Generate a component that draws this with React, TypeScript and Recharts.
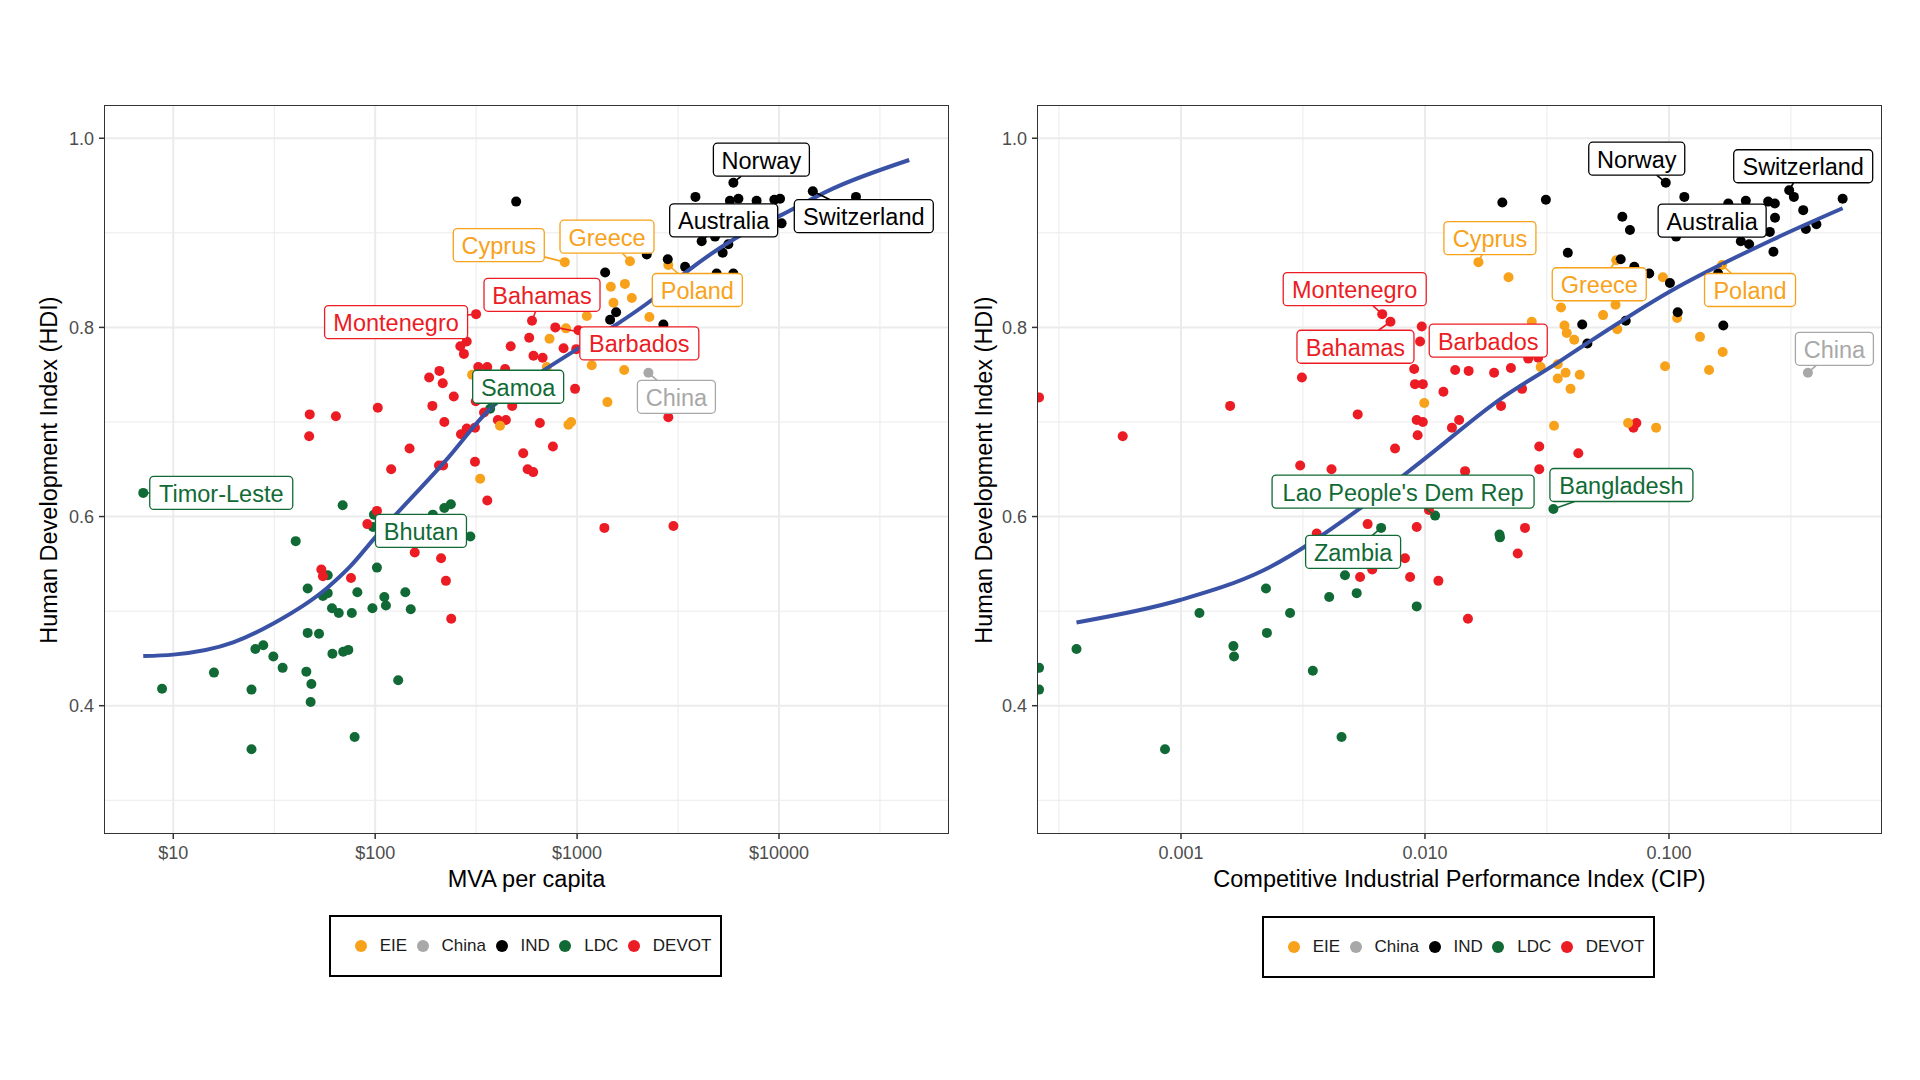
import React from "react";
import { ScatterChart, Scatter, XAxis, YAxis, CartesianGrid } from "recharts";

// ── Data ───────────────────────────────────────────────────────────────────
// [x, HDI, label?]
type Pt = [number, number, string?];

// Left panel: MVA per capita ($)
const MVA_EIE: Pt[] = [
  [869, 0.869, "Cyprus"], [1828, 0.870, "Greece"], [1469, 0.843], [1725, 0.846], [1866, 0.831],
  [1514, 0.826], [2830, 0.866, "Poland"], [2280, 0.811], [1117, 0.812], [730, 0.788], [881, 0.799],
  [1182, 0.760], [1711, 0.755], [1413, 0.721], [906, 0.697], [934, 0.700], [708, 0.758],
  [331, 0.640], [415, 0.696], [302, 0.750],
];
const MVA_CHINA: Pt[] = [[2255, 0.752, "China"]];
const MVA_IND: Pt[] = [
  [499, 0.933], [5943, 0.953, "Norway"], [3855, 0.938], [5713, 0.934], [6295, 0.936], [7745, 0.934],
  [9480, 0.935], [10120, 0.936], [14700, 0.944, "Switzerland"], [24050, 0.938], [10300, 0.910],
  [4140, 0.891, "Australia"], [4820, 0.896], [5610, 0.888], [5260, 0.879], [2213, 0.877], [2812, 0.872],
  [3427, 0.864], [1377, 0.858], [4910, 0.857], [5940, 0.857], [1560, 0.816], [1457, 0.808], [2675, 0.803],
];
const MVA_LDC: Pt[] = [
  [7.1, 0.625, "Timor-Leste"], [8.8, 0.418], [15.9, 0.435], [24.4, 0.417], [24.4, 0.354], [25.5, 0.460],
  [27.9, 0.464], [31.3, 0.452], [34.8, 0.440], [40.4, 0.574], [46.3, 0.524], [46.3, 0.477], [45.6, 0.436],
  [48.3, 0.423], [47.9, 0.404], [52.7, 0.476], [55.1, 0.516], [58.2, 0.538], [58.2, 0.519], [61.1, 0.503],
  [66.0, 0.498], [61.4, 0.455], [69.4, 0.457], [73.6, 0.459], [69.0, 0.612], [76.6, 0.498], [79.1, 0.367],
  [81.6, 0.520], [96.9, 0.503], [98.6, 0.602], [97.5, 0.589, "Bhutan"], [102, 0.546], [111, 0.515],
  [113, 0.506], [130, 0.427], [141, 0.520], [150, 0.502], [193, 0.602], [220, 0.609], [237, 0.613],
  [296, 0.579], [371, 0.714, "Samoa"],
];
const MVA_DEVOT: Pt[] = [
  [47.4, 0.708], [47.1, 0.685], [63.9, 0.706], [54.1, 0.544], [55.1, 0.537], [75.9, 0.535], [91.4, 0.592],
  [102, 0.606], [103, 0.715], [120, 0.650], [148, 0.672], [157, 0.562], [185, 0.747], [192, 0.717],
  [208, 0.754], [216, 0.741], [220, 0.700], [207, 0.654], [217, 0.654], [212, 0.556], [224, 0.532],
  [238, 0.492], [245, 0.727], [264, 0.780], [275, 0.772], [284, 0.785], [316, 0.814, "Montenegro"],
  [266, 0.687], [284, 0.693], [312, 0.694], [312, 0.658], [315, 0.722], [324, 0.758], [359, 0.758],
  [346, 0.710], [359, 0.617], [405, 0.702], [444, 0.702], [440, 0.756], [469, 0.780], [477, 0.717],
  [541, 0.667], [569, 0.650], [606, 0.647], [579, 0.789], [598, 0.807, "Bahamas"], [608, 0.770],
  [675, 0.768], [654, 0.699], [759, 0.674], [780, 0.800, "Barbados"], [857, 0.778], [977, 0.735],
  [990, 0.777], [1015, 0.797], [1365, 0.588], [3000, 0.590], [2830, 0.705],
];
const MVA_SMOOTH: Pt[] = [
  [7.1, 0.4525], [10, 0.454], [19.8, 0.467], [31.3, 0.487], [57.4, 0.524], [75, 0.547], [100, 0.578],
  [225, 0.660], [371, 0.714], [614, 0.748], [1000, 0.777], [1514, 0.801],
  [2344, 0.829], [3491, 0.859], [5943, 0.893], [10300, 0.919], [18580, 0.947], [44160, 0.977],
];

// Right panel: Competitive Industrial Performance Index
const CIP_EIE: Pt[] = [
  [0.01656, 0.869, "Cyprus"], [0.022, 0.853], [0.0608, 0.871, "Greece"], [0.0944, 0.853], [0.0361, 0.821],
  [0.0537, 0.813], [0.0604, 0.824], [0.0274, 0.806], [0.0373, 0.802], [0.0381, 0.794], [0.0409, 0.787],
  [0.0614, 0.798], [0.0298, 0.758], [0.035, 0.761], [0.0377, 0.752], [0.035, 0.746], [0.0431, 0.750],
  [0.0395, 0.735], [0.00993, 0.720], [0.0338, 0.696], [0.068, 0.699], [0.0886, 0.694], [0.0964, 0.759],
  [0.165, 0.866, "Poland"], [0.108, 0.810], [0.134, 0.790], [0.166, 0.774], [0.146, 0.755],
];
const CIP_CHINA: Pt[] = [[0.371, 0.752, "China"]];
const CIP_IND: Pt[] = [
  [0.02075, 0.932], [0.0313, 0.935], [0.0644, 0.917], [0.0692, 0.903], [0.0385, 0.879], [0.0634, 0.872],
  [0.0721, 0.864], [0.083, 0.857], [0.1009, 0.847], [0.0441, 0.803], [0.0463, 0.783], [0.0665, 0.807],
  [0.097, 0.953, "Norway"], [0.1156, 0.938], [0.175, 0.931], [0.2065, 0.934], [0.255, 0.933],
  [0.2716, 0.931], [0.311, 0.945, "Switzerland"], [0.325, 0.938], [0.515, 0.936], [0.355, 0.924],
  [0.272, 0.916], [0.259, 0.901], [0.364, 0.904], [0.402, 0.909], [0.268, 0.880], [0.197, 0.891],
  [0.213, 0.888], [0.107, 0.896, "Australia"], [0.1086, 0.816], [0.167, 0.802], [0.159, 0.857],
];
const CIP_LDC: Pt[] = [
  [0.000262, 0.440], [0.000262, 0.417], [0.000373, 0.460], [0.00086, 0.354], [0.00119, 0.498],
  [0.00164, 0.463], [0.00165, 0.452], [0.00225, 0.477], [0.00223, 0.524], [0.0028, 0.498],
  [0.00347, 0.437], [0.00405, 0.515], [0.00455, 0.367], [0.0047, 0.538], [0.00525, 0.519],
  [0.00661, 0.588, "Zambia"], [0.00925, 0.505], [0.011, 0.601, "Lao People's Dem Rep"],
  [0.0202, 0.581], [0.0203, 0.578], [0.0336, 0.608, "Bangladesh"],
];
const CIP_DEVOT: Pt[] = [
  [0.000262, 0.726], [0.000577, 0.685], [0.00159, 0.717], [0.00313, 0.747], [0.0053, 0.708],
  [0.00308, 0.654], [0.00414, 0.650], [0.00668, 0.814, "Montenegro"], [0.00722, 0.806, "Bahamas"],
  [0.0097, 0.801], [0.00955, 0.785], [0.00903, 0.756], [0.0091, 0.740], [0.0098, 0.740], [0.0133, 0.755],
  [0.0151, 0.754], [0.0192, 0.752], [0.0225, 0.757], [0.0119, 0.732], [0.025, 0.735], [0.0205, 0.717],
  [0.00925, 0.702], [0.0098, 0.700], [0.0138, 0.702], [0.0129, 0.694], [0.00933, 0.686], [0.00754, 0.672],
  [0.0294, 0.674], [0.0425, 0.667], [0.0294, 0.650], [0.0146, 0.648], [0.0735, 0.699], [0.0715, 0.694],
  [0.0265, 0.767, "Barbados"], [0.0291, 0.768], [0.00582, 0.592], [0.0036, 0.582], [0.00828, 0.556],
  [0.00542, 0.536], [0.00608, 0.544], [0.00869, 0.536], [0.00925, 0.589], [0.01135, 0.532],
  [0.01038, 0.607], [0.015, 0.492], [0.0257, 0.588], [0.024, 0.561],
];
const CIP_SMOOTH: Pt[] = [
  [0.000373, 0.488], [0.001, 0.512], [0.00217, 0.543], [0.00558, 0.611],
  [0.00984, 0.660], [0.0203, 0.724], [0.0346, 0.762], [0.046, 0.783], [0.1009, 0.838],
  [0.267, 0.893], [0.515, 0.926],
];

// Axes
const HDI_DOMAIN: [number, number] = [0.2654, 1.0341];
const HDI_TICKS = [0.4, 0.6, 0.8, 1.0];
const HDI_MINOR = [0.3, 0.5, 0.7, 0.9];
const MVA_DOMAIN: [number, number] = [4.59, 68700];
const MVA_TICKS = [10, 100, 1000, 10000];
const MVA_MINOR = [31.62, 316.2, 3162, 31623];
const CIP_DOMAIN: [number, number] = [0.0002594, 0.7396];
const CIP_TICKS = [0.001, 0.01, 0.1];
const CIP_MINOR = [0.000316, 0.00316, 0.0316, 0.316];

const LEGEND_KEYS = ["EIE", "China", "IND", "LDC", "DEVOT"];

// ── Style tokens ───────────────────────────────────────────────────────────
const FONT = '"Liberation Sans", Arial, sans-serif';
const COLORS: Record<string, string> = {
  EIE: "#F8A21B",
  China: "#A8A8A8",
  IND: "#000000",
  LDC: "#116A35",
  DEVOT: "#EC1C24",
};
const BLUE = "#3A52A5";
const GRID = "#EBEBEB";
const BOX_H = 33;

// label box placement: [dx, dy, width] of box centre relative to its point (px)
const LEFT_BOXES: Record<string, [number, number, number]> = {
  Norway: [28, -23, 96],
  Australia: [22, -21, 108],
  Switzerland: [51, 25, 139],
  Cyprus: [-66, -17, 91],
  Greece: [-23, -24.5, 94],
  Bahamas: [10, -26, 116],
  Poland: [29, 25, 90],
  Montenegro: [-80, 8, 143],
  Barbados: [84, 16, 119],
  China: [28, 24, 78],
  Samoa: [28, -22, 91],
  "Timor-Leste": [78, 0, 143],
  Bhutan: [48, 4, 91],
};
const RIGHT_BOXES: Record<string, [number, number, number]> = {
  Norway: [-29, -24, 96],
  Switzerland: [14, -24, 139],
  Australia: [36, -16, 108],
  Cyprus: [11.5, -24, 92],
  Greece: [-17, 24, 94],
  Poland: [28, 25, 91],
  China: [26.5, -24, 78],
  Barbados: [-40, -18, 118],
  Montenegro: [-27.5, -25, 143],
  Bahamas: [-35, 25, 117],
  "Lao People's Dem Rep": [-32, -24, 262],
  Zambia: [-28, 24, 95],
  Bangladesh: [68, -24, 143],
};

// ── Helpers ────────────────────────────────────────────────────────────────
const toRows = (pts: Pt[], color: string) =>
  pts.map(([x, y, name]) => ({ x, y, name, color }));

const dot = (color: string) => (p: any) =>
  <circle cx={p.cx} cy={p.cy} r={5} fill={color} />;

const labelShape = (boxes: Record<string, [number, number, number]>) => (p: any) => {
  const { cx, cy, payload } = p;
  const b = boxes[payload.name];
  if (!b) return <g />;
  const [dx, dy, w] = b;
  const bx = cx + dx;
  const by = cy + dy;
  const hw = w / 2;
  const hh = BOX_H / 2;
  const t = Math.min(dx ? hw / Math.abs(dx) : Infinity, dy ? hh / Math.abs(dy) : Infinity);
  const ex = bx - dx * t;
  const ey = by - dy * t;
  const seg = t < 1 && Math.hypot(ex - cx, ey - cy) > 4;
  return (
    <g>
      {seg && <line x1={cx} y1={cy} x2={ex} y2={ey} stroke={payload.color} strokeWidth={1.6} />}
      <rect x={bx - hw} y={by - hh} width={w} height={BOX_H} rx={4} fill="#fff"
        stroke={payload.color} strokeWidth={1.3} />
      <text x={bx} y={by + 1} textAnchor="middle" dominantBaseline="central"
        fontFamily={FONT} fontSize={23.5} fill={payload.color}>
        {payload.name}
      </text>
    </g>
  );
};

const tickStyle = { fontSize: 18, fill: "#4D4D4D", fontFamily: FONT };
const tickLine = { stroke: "#333", strokeWidth: 1.5 };

type PanelProps = {
  groups: { key: string; pts: Pt[] }[];
  smooth: Pt[];
  domain: [number, number];
  ticks: number[];
  minor: number[];
  fmt: (v: number) => string;
  boxes: Record<string, [number, number, number]>;
  margin: { top: number; right: number; bottom: number; left: number };
};

const Panel: React.FC<PanelProps> = ({ groups, smooth, domain, ticks, minor, fmt, boxes, margin }) => {
  const labelled = groups.flatMap((g) => toRows(g.pts, COLORS[g.key]).filter((r) => r.name));
  return (
    <ScatterChart width={960} height={1080} margin={margin}>
      <CartesianGrid verticalValues={minor} horizontalValues={HDI_MINOR} stroke={GRID} strokeWidth={1} />
      <CartesianGrid verticalValues={ticks} horizontalValues={HDI_TICKS} stroke={GRID} strokeWidth={2} />
      <XAxis type="number" dataKey="x" scale="log" domain={domain} allowDataOverflow ticks={ticks}
        interval={0} tickFormatter={fmt} tick={tickStyle} tickLine={tickLine} tickSize={6}
        tickMargin={7} axisLine={false} height={40} />
      <YAxis type="number" dataKey="y" domain={HDI_DOMAIN} allowDataOverflow ticks={HDI_TICKS}
        interval={0} tickFormatter={(v: number) => v.toFixed(1)} tick={tickStyle} tickLine={tickLine}
        tickSize={6} tickMargin={5} axisLine={false} width={60} />
      {groups.map((g) => (
        <Scatter key={g.key} data={toRows(g.pts, COLORS[g.key])} shape={dot(COLORS[g.key])}
          isAnimationActive={false} />
      ))}
      <Scatter data={toRows(smooth, BLUE)} line={{ stroke: BLUE, strokeWidth: 4 }}
        lineJointType="monotoneX" shape={() => <g />} isAnimationActive={false} />
      <Scatter data={labelled} shape={labelShape(boxes)} isAnimationActive={false} />
    </ScatterChart>
  );
};

const Legend: React.FC<{ left: number; top: number }> = ({ left, top }) => (
  <div style={{
    position: "absolute", left, top, width: 393, height: 62, boxSizing: "border-box",
    border: "2px solid #000", display: "flex", alignItems: "center", paddingLeft: 23.7,
    fontFamily: FONT, fontSize: 17, color: "#1A1A1A",
  }}>
    {LEGEND_KEYS.map((k) => (
      <div key={k} style={{ display: "flex", alignItems: "center", marginRight: 9.5 }}>
        <span style={{ width: 12, height: 12, borderRadius: 6, background: COLORS[k], marginRight: 13 }} />
        <span>{k}</span>
      </div>
    ))}
  </div>
);

const Border: React.FC<{ left: number }> = ({ left }) => (
  <div style={{
    position: "absolute", left: left - 1, top: 105, width: 845, height: 729,
    boxSizing: "border-box", border: "1.5px solid #333", pointerEvents: "none",
  }} />
);

const xTitle = (text: string, left: number): React.ReactNode => (
  <div style={{
    position: "absolute", left, top: 865, width: 843, textAlign: "center",
    fontFamily: FONT, fontSize: 23.5, lineHeight: "28px", color: "#000",
  }}>{text}</div>
);

const yTitle = (cx: number): React.ReactNode => (
  <div style={{
    position: "absolute", left: cx - 250, top: 469.5 - 14, width: 500, height: 28,
    textAlign: "center", transform: "rotate(-90deg)", fontFamily: FONT, fontSize: 23.5,
    lineHeight: "28px", color: "#000", whiteSpace: "nowrap",
  }}>Human Development Index (HDI)</div>
);

// ── Page ───────────────────────────────────────────────────────────────────
const App: React.FC = () => (
  <div style={{ position: "absolute", left: 0, top: 0, width: 1920, height: 1080, background: "#fff" }}>
    <div style={{ position: "absolute", left: 0, top: 0 }}>
      <Panel
        groups={[
          { key: "LDC", pts: MVA_LDC }, { key: "DEVOT", pts: MVA_DEVOT }, { key: "EIE", pts: MVA_EIE },
          { key: "IND", pts: MVA_IND }, { key: "China", pts: MVA_CHINA },
        ]}
        smooth={MVA_SMOOTH} domain={MVA_DOMAIN} ticks={MVA_TICKS} minor={MVA_MINOR}
        fmt={(v) => `$${v}`} boxes={LEFT_BOXES}
        margin={{ top: 106, right: 12, bottom: 207, left: 45 }}
      />
    </div>
    <div style={{ position: "absolute", left: 960, top: 0 }}>
      <Panel
        groups={[
          { key: "LDC", pts: CIP_LDC }, { key: "DEVOT", pts: CIP_DEVOT }, { key: "EIE", pts: CIP_EIE },
          { key: "IND", pts: CIP_IND }, { key: "China", pts: CIP_CHINA },
        ]}
        smooth={CIP_SMOOTH} domain={CIP_DOMAIN} ticks={CIP_TICKS} minor={CIP_MINOR}
        fmt={(v) => v.toFixed(3)} boxes={RIGHT_BOXES}
        margin={{ top: 106, right: 39, bottom: 207, left: 18 }}
      />
    </div>
    <Border left={105} />
    <Border left={1038} />
    {xTitle("MVA per capita", 105)}
    {xTitle("Competitive Industrial Performance Index (CIP)", 1038)}
    {yTitle(49)}
    {yTitle(983.5)}
    <Legend left={329} top={915} />
    <Legend left={1262} top={916} />
  </div>
);

export default App;
